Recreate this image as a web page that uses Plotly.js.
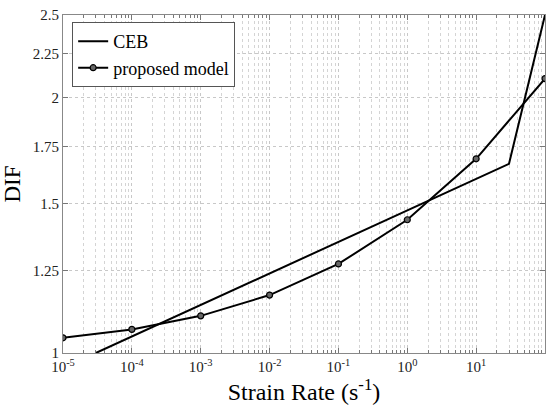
<!DOCTYPE html>
<html>
<head>
<meta charset="utf-8">
<script src="https://cdn.plot.ly/plotly-3.0.1.min.js"></script>
<style>html,body{margin:0;padding:0;background:#fff}#chart{width:553px;height:407px}</style>
</head>
<body>
<div id="chart"></div>
<script>
// CEB model
const cebRate = [3e-5, 30, 100];
const cebDIF = [1.0, 1.67, 2.5];
// proposed model
const modelRate = [1e-5, 1e-4, 1e-3, 1e-2, 1e-1, 1, 10, 100];
const modelDIF = [1.042, 1.066, 1.106, 1.170, 1.273, 1.435, 1.693, 2.104];
// ticks
const xTickVals = [1e-5, 1e-4, 1e-3, 1e-2, 1e-1, 1, 10, 100];
const xTickText = ['10<sup>-5</sup>', '10<sup>-4</sup>', '10<sup>-3</sup>', '10<sup>-2</sup>', '10<sup>-1</sup>', '10<sup>0</sup>', '10<sup>1</sup>', '10<sup>2</sup>'];
const yTickVals = [1, 1.25, 1.5, 1.75, 2, 2.25, 2.5];
const yTickText = ['1', '1.25', '1.5', '1.75', '2', '2.25', '2.5'];

const fam = 'Liberation Serif';
const traces = [
  {x: cebRate, y: cebDIF, name: 'CEB', mode: 'lines', line: {color: '#000', width: 2}},
  {x: modelRate, y: modelDIF, name: 'proposed model', mode: 'lines+markers',
   line: {color: '#000', width: 2},
   marker: {size: 6, color: '#666', line: {color: '#000', width: 1.2}}}
];
const layout = {
  width: 553, height: 407,
  margin: {l: 63, r: 8, t: 15, b: 54},
  paper_bgcolor: '#fff', plot_bgcolor: '#fff',
  font: {family: fam, color: '#222', size: 15},
  showlegend: true,
  legend: {x: 0.019, y: 0.979, xanchor: 'left', yanchor: 'top',
    bgcolor: '#fff', bordercolor: '#555', borderwidth: 1,
    font: {family: fam, size: 18, color: '#000'}, itemwidth: 30,
    tracegroupgap: 0},
  xaxis: {
    type: 'log', range: [-5, 2],
    tickvals: xTickVals, ticktext: xTickText,
    ticks: 'inside', ticklen: 5, tickcolor: '#777',
    showline: true, linecolor: '#888', linewidth: 1, mirror: 'ticks',
    showgrid: true, gridcolor: '#c8c8c8', griddash: 'dot', gridwidth: 1,
    zeroline: false,
    tickfont: {family: fam, size: 15, color: '#222'},
    minor: {dtick: 'D1', ticks: 'inside', ticklen: 3, tickcolor: '#777',
      showgrid: true, gridcolor: '#d4d4d4', griddash: 'dot', gridwidth: 1},
    title: {text: 'Strain Rate (s<sup>-1</sup>)', font: {family: fam, size: 24, color: '#000'}, standoff: 3}
  },
  yaxis: {
    type: 'log', range: [0, Math.log10(2.5)],
    tickvals: yTickVals, ticktext: yTickText,
    ticks: 'inside', ticklen: 5, tickcolor: '#777',
    showline: true, linecolor: '#888', linewidth: 1, mirror: 'ticks',
    showgrid: true, gridcolor: '#c8c8c8', griddash: 'dot', gridwidth: 1,
    zeroline: false,
    tickfont: {family: fam, size: 15, color: '#222'},
    title: {text: 'DIF', font: {family: fam, size: 23, color: '#000'}, standoff: 8}
  }
};
Plotly.newPlot('chart', traces, layout, {displayModeBar: false, staticPlot: true});
</script>
</body>
</html>
